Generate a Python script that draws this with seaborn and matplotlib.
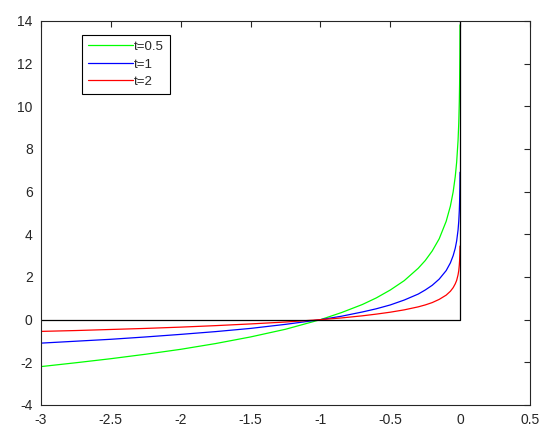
"""Log barrier approximations of the indicator function, MATLAB-style figure."""

import matplotlib

matplotlib.use("Agg")
import matplotlib.pyplot as plt
import pandas as pd
import seaborn as sns

# sample points along u
u = [-3, -2.75, -2.5, -2.25, -2, -1.75, -1.5, -1.25, -1, -0.85, -0.7, -0.6,
     -0.5, -0.4, -0.3, -0.25, -0.2, -0.15, -0.1, -0.07, -0.05, -0.035,
     -0.025, -0.015, -0.01, -0.006, -0.004, -0.002, -0.001]

y_t05 = [-2.20, -2.02, -1.83, -1.62, -1.39, -1.12, -0.81, -0.45, 0.0, 0.33,
         0.71, 1.02, 1.39, 1.83, 2.41, 2.77, 3.22, 3.79, 4.61, 5.32, 5.99,
         6.71, 7.38, 8.40, 9.21, 10.23, 11.04, 12.43, 13.82]
y_t1 = [-1.10, -1.01, -0.92, -0.81, -0.69, -0.56, -0.41, -0.22, 0.0, 0.16,
        0.36, 0.51, 0.69, 0.92, 1.20, 1.39, 1.61, 1.90, 2.30, 2.66, 3.00,
        3.35, 3.69, 4.20, 4.61, 5.12, 5.52, 6.21, 6.91]
y_t2 = [-0.55, -0.51, -0.46, -0.41, -0.35, -0.28, -0.20, -0.11, 0.0, 0.08,
        0.18, 0.26, 0.35, 0.46, 0.60, 0.69, 0.80, 0.95, 1.15, 1.33, 1.50,
        1.68, 1.84, 2.10, 2.30, 2.56, 2.76, 3.11, 3.45]

# indicator function outline
ind_u = [-3, 0, 0]
ind_y = [0, 0, 14]

labels = ["t=0.5", "t=1", "t=2"]
colors = ["#00ff00", "#0000ff", "#ff0000"]

x_ticks = [-3, -2.5, -2, -1.5, -1, -0.5, 0, 0.5]
y_ticks = [-4, -2, 0, 2, 4, 6, 8, 10, 12, 14]

sns.set_style("white")
plt.rcParams["font.family"] = ["Liberation Sans", "DejaVu Sans"]

df = pd.concat(
    [pd.DataFrame({"u": u, "y": ys, "t": lab}) for ys, lab in zip([y_t05, y_t1, y_t2], labels)],
    ignore_index=True,
)

fig = plt.figure(figsize=(5.51, 4.43), dpi=100)
ax = fig.add_axes([0.0744, 0.0858, 0.8875, 0.8668])

sns.lineplot(data=df, x="u", y="y", hue="t", palette=colors, hue_order=labels,
             sort=False, estimator=None, linewidth=0.9, ax=ax)
ax.plot(ind_u, ind_y, color="black", linewidth=0.9)

ax.set_xlim(-3, 0.5)
ax.set_ylim(-4, 14)
ax.set_xticks(x_ticks)
ax.set_yticks(y_ticks)
ax.set_xticklabels([f"{v:g}" for v in x_ticks])
ax.set_yticklabels([f"{v:g}" for v in y_ticks])
ax.set_xlabel("")
ax.set_ylabel("")
ax.tick_params(direction="in", length=4, width=0.8, color="#262626",
               top=True, right=True, labelsize=10, labelcolor="#262626", pad=6)
for side in ax.spines.values():
    side.set_visible(True)
    side.set_color("#262626")
    side.set_linewidth(0.8)

leg = ax.legend(loc="upper left", bbox_to_anchor=(0.084, 0.964), borderaxespad=0,
                fontsize=9.5, handlelength=3.4, handletextpad=0.1, labelspacing=0.4,
                borderpad=0.45, fancybox=False, framealpha=1)
leg.get_frame().set_edgecolor("black")
leg.get_frame().set_linewidth(0.8)

fig.savefig("out.png", dpi=100)
